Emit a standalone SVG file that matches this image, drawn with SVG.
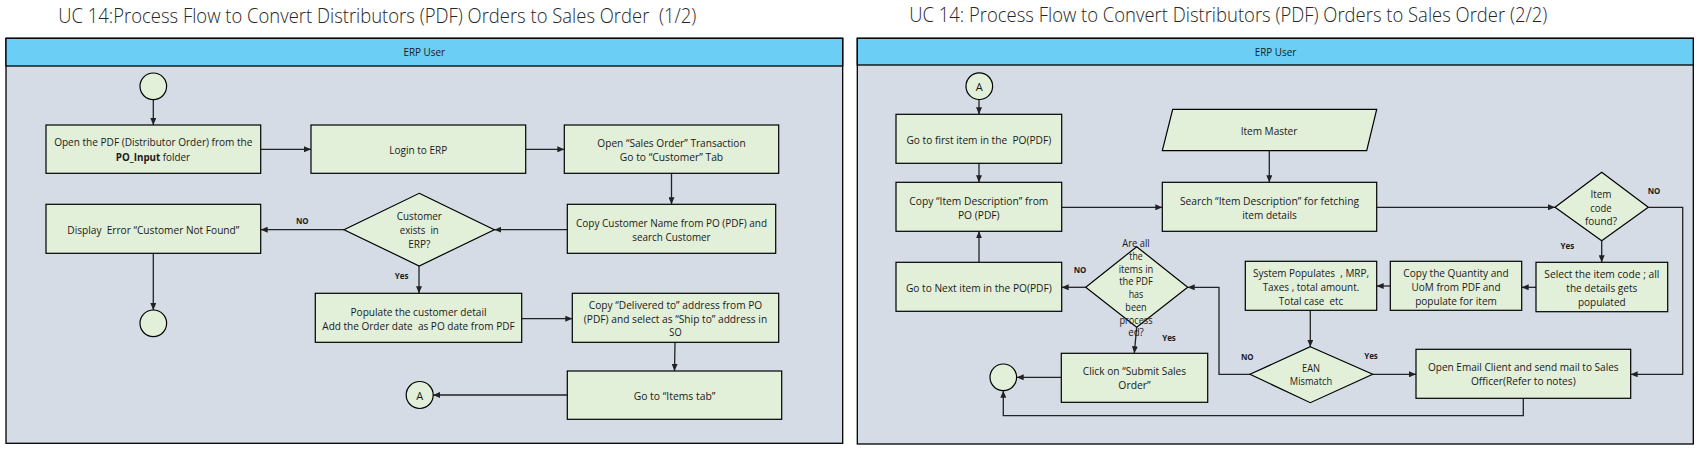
<svg xmlns="http://www.w3.org/2000/svg" width="1702" height="460" viewBox="0 0 1702 460" xml:space="preserve">
<style>
.bg{fill:#ffffff}
.lane{fill:#D5DCE6;stroke:#000;stroke-width:1.3}
.hdr{fill:#6ACEF5;stroke:#000;stroke-width:1.3}
.n{fill:#E2EFD9;stroke:#000;stroke-width:1.2}
.c{fill:none;stroke:#222;stroke-width:1.3}
.t{font-family:"Open Sans","Liberation Sans",sans-serif;font-size:11px;fill:#1a1a1a;text-anchor:middle;dominant-baseline:central;white-space:pre}
.ts{font-family:"Open Sans","Liberation Sans",sans-serif;font-size:11px;fill:#1a1a1a;text-anchor:start;dominant-baseline:central}
.ttl{font-family:"Open Sans","Liberation Sans",sans-serif;font-size:20px;font-weight:300;fill:#262626;white-space:pre}
.lbl{font-family:"Open Sans","Liberation Sans",sans-serif;font-size:8.5px;font-weight:bold;fill:#1a1a1a;text-anchor:middle;dominant-baseline:central}
.h{font-family:"Open Sans","Liberation Sans",sans-serif;font-size:10px;fill:#1a1a1a;text-anchor:middle;dominant-baseline:central}
</style>
<defs>
<marker id="ar" markerUnits="userSpaceOnUse" markerWidth="7" markerHeight="6" refX="7" refY="3" orient="auto">
<path d="M0,0 L7,3 L0,6 z" fill="#222"/>
</marker>
</defs>
<rect class="bg" x="0" y="0" width="1702" height="460"/>

<text class="ttl" x="58.3" y="23.3" textLength="638" lengthAdjust="spacingAndGlyphs">UC 14:Process Flow to Convert Distributors (PDF) Orders to Sales Order  (1/2)</text>
<text class="ttl" x="909.3" y="22.3" textLength="638" lengthAdjust="spacingAndGlyphs">UC 14: Process Flow to Convert Distributors (PDF) Orders to Sales Order (2/2)</text>

<g id="lane-left">
<rect class="lane" x="6" y="38.3" width="836.7" height="405"/>
<rect class="hdr" x="6" y="38.3" width="836.7" height="27.7"/>
<text class="h" x="424.3" y="52" textLength="41.7" lengthAdjust="spacingAndGlyphs">ERP User</text>
</g>
<g id="lane-right">
<rect class="lane" x="857.3" y="38.3" width="836" height="405.7"/>
<rect class="hdr" x="857.3" y="38.3" width="836" height="26.7"/>
<text class="h" x="1275.5" y="51.5" textLength="41.7" lengthAdjust="spacingAndGlyphs">ERP User</text>
</g>

<g id="connectors">
<line class="c" x1="153.3" y1="99.6" x2="153.3" y2="125" marker-end="url(#ar)"/>
<line class="c" x1="260.7" y1="149.3" x2="311" y2="149.3" marker-end="url(#ar)"/>
<line class="c" x1="525.7" y1="149.3" x2="564.3" y2="149.3" marker-end="url(#ar)"/>
<line class="c" x1="671.5" y1="173.3" x2="671.5" y2="204.3" marker-end="url(#ar)"/>
<line class="c" x1="567.3" y1="229.7" x2="494.3" y2="229.7" marker-end="url(#ar)"/>
<line class="c" x1="344" y1="229.7" x2="260.7" y2="229.7" marker-end="url(#ar)"/>
<line class="c" x1="153.3" y1="253.3" x2="153.3" y2="310" marker-end="url(#ar)"/>
<line class="c" x1="419" y1="266" x2="419" y2="293.3" marker-end="url(#ar)"/>
<line class="c" x1="521.7" y1="318.7" x2="572.3" y2="318.7" marker-end="url(#ar)"/>
<line class="c" x1="675" y1="342.3" x2="674.5" y2="371" marker-end="url(#ar)"/>
<line class="c" x1="567.3" y1="395" x2="433" y2="395" marker-end="url(#ar)"/>

<line class="c" x1="979" y1="99.5" x2="979" y2="114.3" marker-end="url(#ar)"/>
<line class="c" x1="979" y1="163.3" x2="979" y2="182.3" marker-end="url(#ar)"/>
<line class="c" x1="1061.7" y1="207.3" x2="1162.3" y2="207.3" marker-end="url(#ar)"/>
<line class="c" x1="1269.3" y1="150.7" x2="1269.3" y2="182.3" marker-end="url(#ar)"/>
<line class="c" x1="1376.7" y1="207.3" x2="1555" y2="207.3" marker-end="url(#ar)"/>
<path class="c" d="M1648.3,207.3 H1682.7 V374.3 H1630.7" marker-end="url(#ar)"/>
<line class="c" x1="1601.7" y1="240.7" x2="1601.7" y2="262.3" marker-end="url(#ar)"/>
<line class="c" x1="1536" y1="287.3" x2="1521.7" y2="287.3" marker-end="url(#ar)"/>
<line class="c" x1="1390.3" y1="286" x2="1376.7" y2="286" marker-end="url(#ar)"/>
<line class="c" x1="1310.3" y1="310.3" x2="1310.3" y2="346.7" marker-end="url(#ar)"/>
<line class="c" x1="1372.7" y1="374.3" x2="1416" y2="374.3" marker-end="url(#ar)"/>
<path class="c" d="M1250,374.3 H1219 V287.3 H1187.7" marker-end="url(#ar)"/>
<line class="c" x1="1085.7" y1="287.3" x2="1061.7" y2="287.3" marker-end="url(#ar)"/>
<line class="c" x1="979" y1="262.3" x2="979" y2="231.3" marker-end="url(#ar)"/>
<line class="c" x1="1136.7" y1="327.3" x2="1134.3" y2="353.3" marker-end="url(#ar)"/>
<line class="c" x1="1061.3" y1="377.3" x2="1016.7" y2="377.3" marker-end="url(#ar)"/>
<path class="c" d="M1523.3,398.3 V415.7 H1003.3 V390.7" marker-end="url(#ar)"/>

<text class="lbl" x="302.3" y="220" textLength="12.7" lengthAdjust="spacingAndGlyphs">NO</text>
<text class="lbl" x="401.7" y="275.7" textLength="13.7" lengthAdjust="spacingAndGlyphs">Yes</text>
<text class="lbl" x="1654" y="190" textLength="12.7" lengthAdjust="spacingAndGlyphs">NO</text>
<text class="lbl" x="1567.3" y="245" textLength="13.7" lengthAdjust="spacingAndGlyphs">Yes</text>
<text class="lbl" x="1371" y="355" textLength="13.7" lengthAdjust="spacingAndGlyphs">Yes</text>
<text class="lbl" x="1247.3" y="356.7" textLength="12.7" lengthAdjust="spacingAndGlyphs">NO</text>
<text class="lbl" x="1080" y="269" textLength="12.7" lengthAdjust="spacingAndGlyphs">NO</text>
<text class="lbl" x="1169" y="337" textLength="13.7" lengthAdjust="spacingAndGlyphs">Yes</text>
</g>

<!-- Left panel nodes -->
<g id="start1"><circle class="n" cx="153.3" cy="86.3" r="13.3"/></g>
<g id="openPdf">
<rect class="n" x="46" y="125" width="214.7" height="48.3"/>
<text class="t" x="153.3" y="141.5" textLength="198.3" lengthAdjust="spacingAndGlyphs">Open the PDF (Distributor Order) from the</text>
<text class="ts" x="115.8" y="156.5" font-weight="bold" textLength="44.5" lengthAdjust="spacingAndGlyphs">PO_Input</text>
<text class="ts" x="162.7" y="156.5" textLength="27.3" lengthAdjust="spacingAndGlyphs">folder</text>
</g>
<g id="login">
<rect class="n" x="311" y="125" width="214.7" height="48.3"/>
<text class="t" x="418.3" y="149" textLength="58" lengthAdjust="spacingAndGlyphs">Login to ERP</text>
</g>
<g id="openSO">
<rect class="n" x="564.3" y="125" width="214.4" height="48.3"/>
<text class="t" x="671.5" y="142" textLength="148.3" lengthAdjust="spacingAndGlyphs">Open “Sales Order” Transaction</text>
<text class="t" x="671.5" y="156" textLength="103.3" lengthAdjust="spacingAndGlyphs">Go to “Customer” Tab</text>
</g>
<g id="copyCust">
<rect class="n" x="567.3" y="204.3" width="208.4" height="49"/>
<text class="t" x="671.5" y="222" textLength="191" lengthAdjust="spacingAndGlyphs">Copy Customer Name from PO (PDF) and</text>
<text class="t" x="671.5" y="236" textLength="78.3" lengthAdjust="spacingAndGlyphs">search Customer</text>
</g>
<g id="custExists">
<polygon class="n" points="419.2,193.3 494.3,229.7 419.2,266 344,229.7"/>
<text class="t" x="419.3" y="215" textLength="45" lengthAdjust="spacingAndGlyphs">Customer</text>
<text class="t" x="419.3" y="229.3" textLength="39" lengthAdjust="spacingAndGlyphs">exists  in</text>
<text class="t" x="419.3" y="243.3" textLength="22.3" lengthAdjust="spacingAndGlyphs">ERP?</text>
</g>
<g id="displayErr">
<rect class="n" x="46" y="204.3" width="214.7" height="49"/>
<text class="t" x="153.3" y="229" textLength="172" lengthAdjust="spacingAndGlyphs">Display  Error “Customer Not Found”</text>
</g>
<g id="end1"><circle class="n" cx="153.3" cy="323.3" r="13.3"/></g>
<g id="populate">
<rect class="n" x="315.3" y="293.3" width="206.4" height="49"/>
<text class="t" x="418.5" y="311" textLength="136" lengthAdjust="spacingAndGlyphs">Populate the customer detail</text>
<text class="t" x="418.5" y="325" textLength="192.3" lengthAdjust="spacingAndGlyphs">Add the Order date  as PO date from PDF</text>
</g>
<g id="copyDeliv">
<rect class="n" x="572.3" y="293.3" width="206.4" height="49"/>
<text class="t" x="675.5" y="304" textLength="173.3" lengthAdjust="spacingAndGlyphs">Copy “Delivered to” address from PO</text>
<text class="t" x="675.5" y="318" textLength="183.3" lengthAdjust="spacingAndGlyphs">(PDF) and select as “Ship to” address in</text>
<text class="t" x="675.5" y="331.7" textLength="12.3" lengthAdjust="spacingAndGlyphs">SO</text>
</g>
<g id="itemsTab">
<rect class="n" x="567.3" y="371" width="214.4" height="48.3"/>
<text class="t" x="674.5" y="395" textLength="81.7" lengthAdjust="spacingAndGlyphs">Go to “Items tab”</text>
</g>
<g id="connA1">
<circle class="n" cx="419.7" cy="395" r="13.5"/>
<text class="t" x="419.7" y="395">A</text>
</g>

<!-- Right panel nodes -->
<g id="connA2">
<circle class="n" cx="979.3" cy="86.2" r="13.3"/>
<text class="t" x="979.3" y="86.2">A</text>
</g>
<g id="firstItem">
<rect class="n" x="896" y="114.3" width="165.7" height="49"/>
<text class="t" x="978.8" y="139" textLength="144.7" lengthAdjust="spacingAndGlyphs">Go to first item in the  PO(PDF)</text>
</g>
<g id="copyDesc">
<rect class="n" x="896" y="182.3" width="165.7" height="49"/>
<text class="t" x="978.8" y="200" textLength="139" lengthAdjust="spacingAndGlyphs">Copy “Item Description” from</text>
<text class="t" x="978.8" y="214.3" textLength="41.7" lengthAdjust="spacingAndGlyphs">PO (PDF)</text>
</g>
<g id="nextItem">
<rect class="n" x="896" y="262.3" width="165.7" height="49"/>
<text class="t" x="978.8" y="287" textLength="145.7" lengthAdjust="spacingAndGlyphs">Go to Next item in the PO(PDF)</text>
</g>
<g id="itemMaster">
<polygon class="n" points="1172.7,109.3 1376.7,109.3 1366.7,150.7 1162.3,150.7"/>
<text class="t" x="1269" y="130" textLength="56.7" lengthAdjust="spacingAndGlyphs">Item Master</text>
</g>
<g id="searchDesc">
<rect class="n" x="1162.3" y="182.3" width="214.4" height="49"/>
<text class="t" x="1269.5" y="200" textLength="179" lengthAdjust="spacingAndGlyphs">Search “Item Description” for fetching</text>
<text class="t" x="1269.5" y="214.3" textLength="54.7" lengthAdjust="spacingAndGlyphs">item details</text>
</g>
<g id="itemFound">
<polygon class="n" points="1601.7,172.3 1648.3,207.3 1601.7,240.7 1555,207.3"/>
<text class="t" x="1601" y="193.3" textLength="21" lengthAdjust="spacingAndGlyphs">Item</text>
<text class="t" x="1601" y="207.3" textLength="21.3" lengthAdjust="spacingAndGlyphs">code</text>
<text class="t" x="1601" y="220.7" textLength="32" lengthAdjust="spacingAndGlyphs">found?</text>
</g>
<g id="selectCode">
<rect class="n" x="1536" y="262.3" width="131.7" height="49.4"/>
<text class="t" x="1601.8" y="273.3" textLength="115" lengthAdjust="spacingAndGlyphs">Select the item code ; all</text>
<text class="t" x="1601.8" y="287.3" textLength="71" lengthAdjust="spacingAndGlyphs">the details gets</text>
<text class="t" x="1601.8" y="301.3" textLength="47.7" lengthAdjust="spacingAndGlyphs">populated</text>
</g>
<g id="copyQty">
<rect class="n" x="1390.3" y="261.3" width="131.4" height="49"/>
<text class="t" x="1456" y="272.3" textLength="105.3" lengthAdjust="spacingAndGlyphs">Copy the Quantity and</text>
<text class="t" x="1456" y="286" textLength="89" lengthAdjust="spacingAndGlyphs">UoM from PDF and</text>
<text class="t" x="1456" y="300" textLength="81.7" lengthAdjust="spacingAndGlyphs">populate for item</text>
</g>
<g id="sysPop">
<rect class="n" x="1245.3" y="261.3" width="131.4" height="49"/>
<text class="t" x="1311" y="272.3" textLength="116" lengthAdjust="spacingAndGlyphs">System Populates  , MRP,</text>
<text class="t" x="1311" y="286" textLength="96.7" lengthAdjust="spacingAndGlyphs">Taxes , total amount.</text>
<text class="t" x="1311" y="300" textLength="64.3" lengthAdjust="spacingAndGlyphs">Total case  etc</text>
</g>
<g id="eanMismatch">
<polygon class="n" points="1310.3,346.7 1372.7,374.3 1310.3,402.7 1250,374.3"/>
<text class="t" x="1311" y="367.3" textLength="18" lengthAdjust="spacingAndGlyphs">EAN</text>
<text class="t" x="1311" y="380.7" textLength="42.3" lengthAdjust="spacingAndGlyphs">Mismatch</text>
</g>
<g id="emailClient">
<rect class="n" x="1416" y="349.3" width="214.7" height="49"/>
<text class="t" x="1523.3" y="366.7" textLength="190.7" lengthAdjust="spacingAndGlyphs">Open Email Client and send mail to Sales</text>
<text class="t" x="1523.3" y="380" textLength="104.7" lengthAdjust="spacingAndGlyphs">Officer(Refer to notes)</text>
</g>
<g id="allProcessed">
<polygon class="n" points="1136.7,246.7 1187.7,287.3 1136.7,327.3 1085.7,287.3"/>
<text class="t" x="1136" y="242.7" textLength="27.3" lengthAdjust="spacingAndGlyphs">Are all</text>
<text class="t" x="1136" y="255.7" textLength="13.3" lengthAdjust="spacingAndGlyphs">the</text>
<text class="t" x="1136" y="268.7" textLength="34.7" lengthAdjust="spacingAndGlyphs">items in</text>
<text class="t" x="1136" y="280.7" textLength="33.7" lengthAdjust="spacingAndGlyphs">the PDF</text>
<text class="t" x="1136" y="293.7" textLength="14.7" lengthAdjust="spacingAndGlyphs">has</text>
<text class="t" x="1136" y="306.7" textLength="21.3" lengthAdjust="spacingAndGlyphs">been</text>
<text class="t" x="1136" y="319.7" textLength="33" lengthAdjust="spacingAndGlyphs">process</text>
<text class="t" x="1136" y="331.3" textLength="15.7" lengthAdjust="spacingAndGlyphs">ed?</text>
</g>
<g id="submitSO">
<rect class="n" x="1061.3" y="353.3" width="146.4" height="49"/>
<text class="t" x="1134.5" y="370" textLength="103.3" lengthAdjust="spacingAndGlyphs">Click on “Submit Sales</text>
<text class="t" x="1134.5" y="384" textLength="32.3" lengthAdjust="spacingAndGlyphs">Order”</text>
</g>
<g id="end2"><circle class="n" cx="1003.3" cy="377.3" r="13.3"/></g>
</svg>
